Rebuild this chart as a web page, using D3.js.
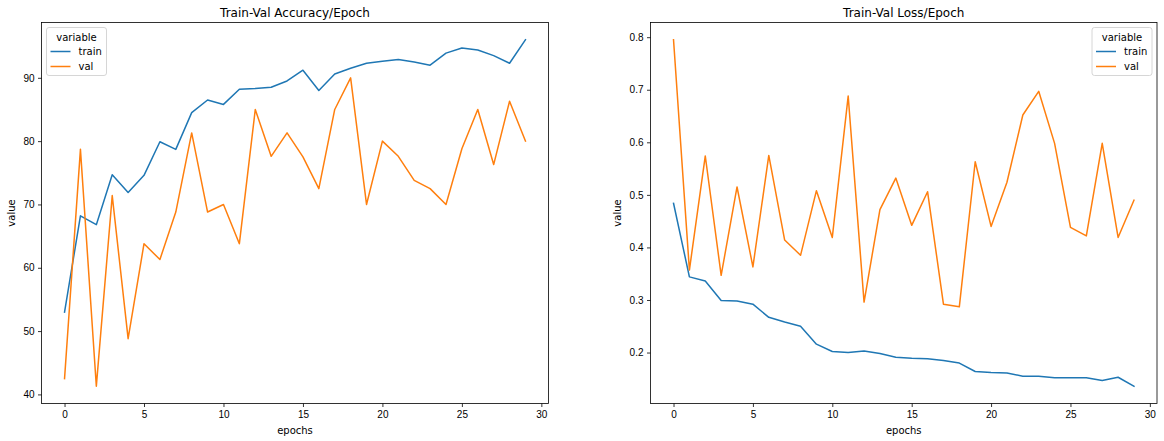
<!DOCTYPE html>
<html>
<head>
<meta charset="utf-8">
<script src="https://cdn.jsdelivr.net/npm/d3@7"></script>
<style>
  body { margin: 0; background: #fff; }
  svg { display: block; font-family: "DejaVu Sans", sans-serif; }
  .tick text { font-size: 10px; fill: #000; }
  .domain { display: none; }
</style>
</head>
<body>
<svg id="chart" width="1164" height="441"></svg>
<script>
var epochs = d3.range(0, 30);

var accTrain = [53.0, 68.2, 66.8, 74.7, 71.9, 74.6, 79.9, 78.7, 84.5, 86.5,
	85.8, 88.2, 88.3, 88.5, 89.5, 91.2, 88.0, 90.6, 91.5, 92.3,
	92.6, 92.9, 92.5, 92.0, 93.9, 94.7, 94.4, 93.5, 92.3, 96.0];
var accVal = [42.5, 78.7, 41.3, 71.4, 48.8, 63.8, 61.3, 68.8, 81.3, 68.8,
	70.0, 63.8, 85.0, 77.6, 81.3, 77.5, 72.5, 85.0, 90.0, 70.0,
	80.0, 77.6, 73.8, 72.5, 70.0, 78.8, 85.0, 76.3, 86.3, 80.0];

var lossTrain = [0.484, 0.344, 0.336, 0.299, 0.298, 0.292, 0.267, 0.258, 0.250, 0.216,
	0.202, 0.200, 0.203, 0.198, 0.191, 0.189, 0.188, 0.185, 0.180, 0.164,
	0.162, 0.161, 0.155, 0.155, 0.152, 0.152, 0.152, 0.147, 0.153, 0.136];
var lossVal = [0.795, 0.357, 0.574, 0.347, 0.515, 0.363, 0.575, 0.414, 0.385, 0.508,
	0.419, 0.688, 0.296, 0.472, 0.532, 0.442, 0.506, 0.292, 0.287, 0.563,
	0.440, 0.524, 0.652, 0.697, 0.598, 0.438, 0.422, 0.598, 0.419, 0.490];

var xTicks = [0, 5, 10, 15, 20, 25, 30];
var accTicks = [40, 50, 60, 70, 80, 90];
var lossTicks = [0.2, 0.3, 0.4, 0.5, 0.6, 0.7, 0.8];
var seriesNames = ["train", "val"];
var colors = ["#1f77b4", "#ff7f0e"];

var svg = d3.select("#chart");

//Pad a domain by 5% like matplotlib does
function padded(arr){
	var ext = d3.extent(arr), m = (ext[1] - ext[0]) * 0.05;
	return [ext[0] - m, ext[1] + m];
}

function drawPanel(opts){
	var box = opts.box;
	var g = svg.append("g");

	var x = d3.scaleLinear().domain(padded(epochs)).range([box.left, box.right]);
	var y = d3.scaleLinear().domain(padded(opts.series[0].concat(opts.series[1]))).range([box.bottom, box.top]);

	//Axes
	g.append("g")
		.attr("transform", "translate(0," + box.bottom + ")")
		.call(d3.axisBottom(x).tickValues(xTicks).tickSize(3.5).tickPadding(3.5).tickFormat(d3.format("d")))
		.call(function(a){ a.selectAll("line").attr("stroke", "#000").attr("stroke-width", 0.8); });

	g.append("g")
		.attr("transform", "translate(" + box.left + ",0)")
		.call(d3.axisLeft(y).tickValues(opts.ticks).tickSize(3.5).tickPadding(3.5).tickFormat(opts.fmt))
		.call(function(a){ a.selectAll("line").attr("stroke", "#000").attr("stroke-width", 0.8); });

	//Lines
	var line = d3.line()
		.x(function(d, i){ return x(epochs[i]); })
		.y(function(d){ return y(d); });

	opts.series.forEach(function(s, i){
		g.append("path")
			.datum(s)
			.attr("fill", "none")
			.attr("stroke", colors[i])
			.attr("stroke-width", 1.5)
			.attr("stroke-linejoin", "round")
			.attr("stroke-linecap", "square")
			.attr("d", line);
	});

	//Frame
	g.append("rect")
		.attr("x", box.left)
		.attr("y", box.top)
		.attr("width", box.right - box.left)
		.attr("height", box.bottom - box.top)
		.attr("fill", "none")
		.attr("stroke", "#000")
		.attr("stroke-width", 0.8);

	//Title and labels
	var cx = (box.left + box.right) / 2;
	g.append("text")
		.attr("x", cx)
		.attr("y", box.top - 6)
		.attr("text-anchor", "middle")
		.attr("font-size", 12)
		.text(opts.title);

	g.append("text")
		.attr("x", cx)
		.attr("y", box.bottom + 30)
		.attr("text-anchor", "middle")
		.attr("font-size", 10)
		.text("epochs");

	g.append("text")
		.attr("transform", "translate(" + (box.left + opts.ylabelOffset) + "," + ((box.top + box.bottom) / 2) + ") rotate(-90)")
		.attr("text-anchor", "middle")
		.attr("font-size", 10)
		.text("value");

	//Legend, anchored to the frame corner
	var lgW = 60, lgH = 48;
	var lx = opts.legendSide === "left" ? box.left + 5 : box.right - 5 - lgW;
	var lg = g.append("g").attr("transform", "translate(" + lx + "," + (box.top + 5) + ")");
	lg.append("rect")
		.attr("width", lgW)
		.attr("height", lgH)
		.attr("rx", 2.5)
		.attr("fill", "#fff")
		.attr("fill-opacity", 0.8)
		.attr("stroke", "#ccc")
		.attr("stroke-width", 0.8);
	lg.append("text")
		.attr("x", lgW / 2)
		.attr("y", 13)
		.attr("text-anchor", "middle")
		.attr("font-size", 10)
		.text("variable");
	seriesNames.forEach(function(name, i){
		var ly = 24 + i * 15;
		lg.append("line")
			.attr("x1", 4).attr("x2", 24)
			.attr("y1", ly).attr("y2", ly)
			.attr("stroke", colors[i])
			.attr("stroke-width", 1.5);
		lg.append("text")
			.attr("x", 32)
			.attr("y", ly + 3.5)
			.attr("font-size", 10)
			.text(name);
	});
}

drawPanel({
	box: {left: 41.5, right: 548.5, top: 22.5, bottom: 403.5},
	series: [accTrain, accVal],
	ticks: accTicks,
	fmt: d3.format("d"),
	title: "Train-Val Accuracy/Epoch",
	ylabelOffset: -27,
	legendSide: "left"
});

drawPanel({
	box: {left: 650.5, right: 1157, top: 22.5, bottom: 403.5},
	series: [lossTrain, lossVal],
	ticks: lossTicks,
	fmt: d3.format(".1f"),
	title: "Train-Val Loss/Epoch",
	ylabelOffset: -30,
	legendSide: "right"
});
</script>
</body>
</html>
